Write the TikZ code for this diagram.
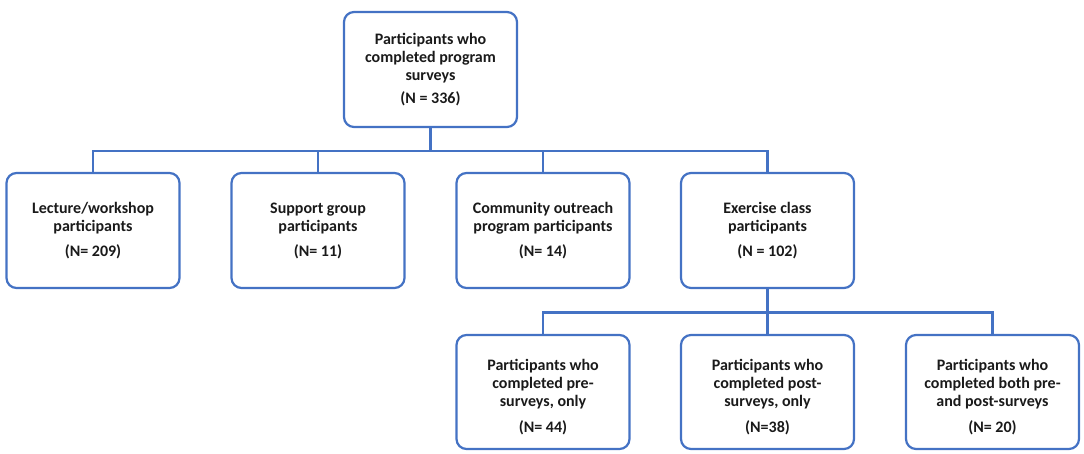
\documentclass[tikz,border=0pt]{standalone}
\usepackage{fontspec}
\setmainfont{Carlito}
\definecolor{boxblue}{HTML}{4472C4}
\definecolor{txt}{HTML}{1A1A1A}
\newcommand{\topstrut}{\rule{0pt}{22pt}}
\begin{document}
\begin{tikzpicture}[x=1pt,y=-1pt,
  box/.style={draw=boxblue, line width=2.2pt, rounded corners=10pt, fill=white,
    minimum width=173pt, inner sep=0pt, align=center, text=txt,
    font=\fontsize{16}{18}\selectfont\bfseries},
  conn/.style={draw=boxblue, line width=2.2pt}]
\useasboundingbox (0,0) rectangle (1084,454);
\node[box, minimum height=115pt] (top) at (430.5,69.5) {Participants who\\completed program\\surveys\\[5pt](N = 336)};
\node[box, minimum height=115pt] (b1) at (93,230.5) {Lecture/workshop\\participants\\[7pt](N= 209)};
\node[box, minimum height=115pt] (b2) at (318,230.5) {Support group\\participants\\[7pt](N= 11)};
\node[box, minimum height=115pt] (b3) at (543,230.5) {Community outreach\\program participants\\[7pt](N= 14)};
\node[box, minimum height=115pt] (b4) at (767.5,230.5) {Exercise class\\participants\\[7pt](N = 102)};
\node[box, minimum height=114pt] (c1) at (543,392) {\topstrut Participants who\\completed pre-\\surveys, only\\[8pt](N= 44)};
\node[box, minimum height=114pt] (c2) at (767.5,392) {\topstrut Participants who\\completed post-\\surveys, only\\[8pt](N=38)};
\node[box, minimum height=114pt] (c3) at (992.5,392) {\topstrut Participants who\\completed both pre-\\and post-surveys\\[8pt](N= 20)};
\coordinate (bus1) at (430.5,151);
\coordinate (bus2) at (767.5,312.5);
\draw[conn] (top.south) -- (bus1);
\draw[conn] (b1.north) -- (b1.north |- bus1) -- (b4.north |- bus1) -- (b4.north);
\draw[conn] (b2.north) -- (b2.north |- bus1);
\draw[conn] (b3.north) -- (b3.north |- bus1);
\draw[conn] (b4.south) -- (bus2);
\draw[conn] (c1.north) -- (c1.north |- bus2) -- (c3.north |- bus2) -- (c3.north);
\draw[conn] (c2.north) -- (c2.north |- bus2);
\end{tikzpicture}
\end{document}
